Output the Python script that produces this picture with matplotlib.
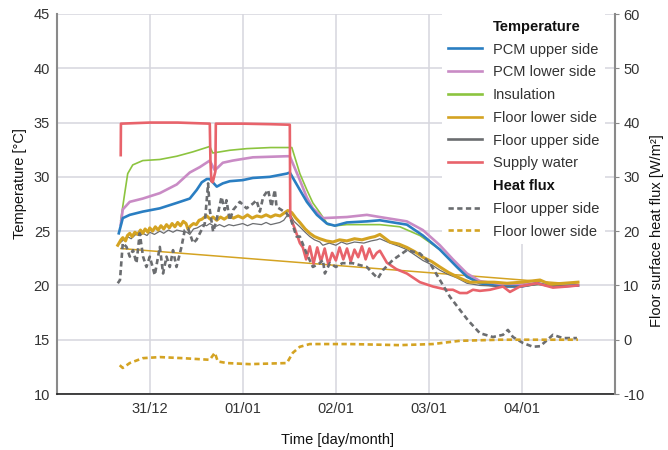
import matplotlib
matplotlib.use("Agg")
import matplotlib.pyplot as plt
from matplotlib.lines import Line2D

plt.rcParams['font.family'] = ['Liberation Sans', 'DejaVu Sans']
plt.rcParams['axes.unicode_minus'] = False

# Time in days counted from 31/12 00:00
tick_days = [0, 1, 2, 3, 4]
tick_labels = ['31/12', '01/01', '02/01', '03/01', '04/01']

supply_t = [-0.312, -0.310, 0.0, 0.3, 0.645, 0.652, 0.662, 0.677, 0.705, 0.710, 1.0, 1.3, 1.505,
            1.510, 1.56, 1.613, 1.645, 1.68, 1.72, 1.76, 1.80, 1.84, 1.88, 1.92, 1.96, 2.0, 2.04,
            2.08, 2.12, 2.16, 2.20, 2.24, 2.28, 2.32, 2.36, 2.40, 2.44, 2.473, 2.548, 2.65, 2.763,
            2.903, 3.043, 3.194, 3.258, 3.333, 3.409, 3.473, 3.548, 3.656, 3.796, 3.871, 3.978,
            4.161, 4.333, 4.484, 4.602]
supply_v = [32.0, 34.9, 35.0, 35.0, 34.9, 31.5, 29.6, 29.5, 30.5, 34.9, 34.9, 34.85, 34.8,
            26.3, 25.2, 23.9, 23.5, 22.4, 23.6, 22.0, 23.5, 22.2, 23.4, 21.9, 23.0, 22.3, 23.5,
            22.4, 23.4, 22.2, 23.3, 22.6, 23.6, 22.4, 23.4, 22.5, 23.0, 23.2, 22.1, 21.5, 21.1,
            20.3, 19.9, 19.6, 19.6, 19.3, 19.3, 19.6, 19.5, 19.6, 19.9, 19.4, 19.9,
            20.2, 19.8, 19.9, 20.0]

insulation_t = [-0.312, -0.269, -0.237, -0.183, -0.075, 0.108, 0.29, 0.462, 0.645, 0.677, 0.753,
                0.86, 1.043, 1.3, 1.527, 1.613, 1.688, 1.753, 1.828, 1.914, 2.0, 2.118, 2.473,
                2.688, 2.903, 3.118, 3.333, 3.441, 3.548, 3.763, 4.0, 4.161, 4.333, 4.602]
insulation_v = [26.0, 28.5, 30.3, 31.1, 31.5, 31.6, 31.9, 32.3, 32.8, 32.2, 32.3,
                32.45, 32.6, 32.7, 32.7, 30.3, 28.8, 27.6, 26.7, 25.6, 25.5, 25.6, 25.6,
                25.4, 24.6, 23.3, 21.4, 20.7, 20.2, 19.9, 19.9, 20.1, 20.0, 20.0]

pcm_lower_t = [-0.312, -0.290, -0.215, -0.075, 0.108, 0.29, 0.43, 0.538, 0.645, 0.699, 0.785,
               0.892, 1.108, 1.473, 1.505, 1.613, 1.688, 1.753, 1.86, 2.118, 2.333, 2.473,
               2.763, 2.935, 3.118, 3.258, 3.409, 3.548, 3.839, 4.161, 4.333, 4.602]
pcm_lower_v = [25.6, 27.0, 27.7, 28.0, 28.5, 29.3, 30.4, 30.9, 31.5, 30.6, 31.3,
               31.5, 31.8, 31.9, 31.9, 29.7, 28.1, 27.1, 26.2, 26.3, 26.5, 26.3,
               25.9, 25.1, 23.7, 22.4, 21.1, 20.4, 20.0, 20.2, 19.9, 20.0]

pcm_upper_t = [-0.333, -0.290, -0.215, -0.075, 0.108, 0.29, 0.43, 0.505, 0.559, 0.613, 0.645,
               0.72, 0.785, 0.86, 1.0, 1.108, 1.29, 1.473, 1.505, 1.613, 1.688, 1.796, 1.903,
               1.989, 2.118, 2.333, 2.473, 2.763, 2.935, 3.118, 3.301, 3.409, 3.548, 3.763,
               4.0, 4.161, 4.333, 4.602]
pcm_upper_v = [24.8, 26.2, 26.5, 26.8, 27.1, 27.6, 28.0, 28.8, 29.5, 29.8, 29.8,
               29.1, 29.4, 29.6, 29.7, 29.9, 30.0, 30.3, 30.4, 28.8, 27.7, 26.5, 25.7,
               25.5, 25.8, 25.9, 26.0, 25.6, 24.6, 23.3, 21.7, 20.8, 20.2, 19.9,
               19.9, 20.2, 19.9, 20.0]

floor_lower_t = [-0.344, -0.31, -0.29, -0.26, -0.24, -0.215, -0.19, -0.16, -0.13, -0.10, -0.075,
                 -0.05, -0.02, 0.0, 0.03, 0.06, 0.09, 0.12, 0.15, 0.18, 0.21, 0.24, 0.27, 0.30,
                 0.33, 0.36, 0.39, 0.41, 0.44, 0.47, 0.50, 0.53, 0.56, 0.59, 0.613, 0.65, 0.68,
                 0.72, 0.76, 0.80, 0.85, 0.90, 0.95, 1.0, 1.05, 1.10, 1.15, 1.20, 1.25, 1.30,
                 1.35, 1.40, 1.45, 1.484, 1.527, 1.57, 1.613, 1.67, 1.72, 1.77, 1.828, 1.90,
                 1.968, 2.04, 2.118, 2.20, 2.28, 2.366, 2.42, 2.473, 2.581, 2.68, 2.763, 2.85,
                 2.935, 3.03, 3.118, 3.21, 3.301, 3.38, 3.441, 3.548, 3.70, 3.839, 4.0, 4.194,
                 4.30, 4.45, 4.602]
floor_lower_v = [23.7, 24.2, 24.4, 24.1, 24.6, 24.8, 24.5, 24.9, 24.7, 25.1, 24.8,
                 25.2, 24.9, 25.3, 25.0, 25.4, 25.1, 25.5, 25.2, 25.6, 25.3, 25.7, 25.4, 25.8,
                 25.5, 25.9, 25.7, 25.2, 25.5, 25.7, 25.6, 26.0, 26.1, 26.3, 26.4, 26.1, 26.3,
                 26.0, 26.3, 26.1, 26.4, 26.2, 26.4, 26.2, 26.5, 26.2, 26.4, 26.3, 26.5, 26.3,
                 26.5, 26.4, 26.7, 26.9, 26.7, 26.2, 25.8, 25.2, 24.8, 24.5, 24.3, 24.1,
                 24.0, 24.2, 24.1, 24.3, 24.2, 24.4, 24.5, 24.7, 24.0, 23.8, 23.5, 23.1,
                 22.6, 22.2, 21.7, 21.2, 20.8, 20.5, 20.3, 20.3, 20.3, 20.2, 20.3, 20.5,
                 20.1, 20.2, 20.3]

# Straight segment joining the first and last floor lower side readings
floor_lower_link_t = [-0.312, 4.602]
floor_lower_link_v = [23.4, 20.1]

floor_upper_t = [-0.323, -0.28, -0.24, -0.2, -0.15, -0.1, -0.075, -0.03, 0.0, 0.05, 0.108, 0.15,
                 0.2, 0.25, 0.29, 0.34, 0.398, 0.43, 0.47, 0.51, 0.57, 0.61, 0.645, 0.70, 0.75,
                 0.80, 0.85, 0.90, 1.0, 1.05, 1.108, 1.2, 1.25, 1.3, 1.398, 1.44, 1.473, 1.505,
                 1.55, 1.613, 1.67, 1.72, 1.77, 1.828, 1.86, 1.93, 2.0, 2.06, 2.118, 2.2, 2.3,
                 2.38, 2.441, 2.473, 2.581, 2.68, 2.763, 2.85, 2.935, 3.03, 3.118, 3.21, 3.301,
                 3.409, 3.548, 3.8, 4.0, 4.2, 4.333, 4.602]
floor_upper_v = [23.9, 24.2, 24.5, 24.3, 24.7, 24.6, 24.8, 24.6, 24.9, 24.7, 25.0, 24.8,
                 25.1, 24.9, 25.1, 25.0, 24.9, 24.7, 25.2, 25.3, 25.6, 25.5, 25.7, 25.4, 25.6,
                 25.4, 25.6, 25.5, 25.7, 25.5, 25.7, 25.6, 25.8, 25.6, 25.8, 26.0, 26.4, 26.6,
                 25.9, 25.4, 24.9, 24.5, 24.2, 24.0, 23.7, 23.9, 23.7, 24.0, 23.8, 24.0, 23.9,
                 24.1, 24.2, 24.3, 23.9, 23.6, 23.3, 22.8, 22.3, 21.9, 21.4, 21.0, 20.7,
                 20.2, 20.0, 19.9, 19.9, 20.1, 20.0, 20.0]

flux_upper_t = [-0.344, -0.32, -0.29, -0.25, -0.215, -0.18, -0.143, -0.108, -0.072, -0.036, 0.0,
                0.054, 0.108, 0.143, 0.18, 0.215, 0.25, 0.287, 0.341, 0.376, 0.412, 0.466,
                0.502, 0.538, 0.591, 0.627, 0.645, 0.681, 0.717, 0.771, 0.806, 0.824, 0.860,
                0.896, 0.968, 1.04, 1.111, 1.147, 1.183, 1.219, 1.272, 1.308, 1.344, 1.362,
                1.416, 1.47, 1.52, 1.577, 1.613, 1.685, 1.753, 1.828, 1.86, 1.882, 1.935,
                2.0, 2.07, 2.18, 2.333, 2.398, 2.452, 2.505, 2.613, 2.763, 2.903, 3.011,
                3.118, 3.226, 3.333, 3.419, 3.548, 3.688, 3.796, 3.849, 3.903, 4.011, 4.118,
                4.194, 4.269, 4.333, 4.441, 4.591]
flux_upper_v = [10.4, 11.0, 17.8, 17.1, 15.3, 16.5, 14.1, 19.6, 15.3, 13.4, 15.3,
                11.9, 17.1, 12.2, 15.3, 13.4, 16.5, 13.4, 17.1, 20.2, 20.5, 17.8,
                18.4, 19.6, 21.4, 28.8, 23.9, 19.9, 22.0, 26.3, 23.9, 25.7, 22.0,
                23.9, 25.4, 24.2, 25.1, 25.7, 23.6, 26.3, 27.6, 24.5, 27.6, 24.5,
                23.9, 23.3, 22.0, 19.0, 19.0, 15.9, 13.4, 14.1, 14.7, 12.2, 14.1,
                13.4, 14.1, 14.1, 13.4, 12.2, 11.3, 12.8, 14.7, 16.5, 15.9, 14.1,
                11.0, 7.9, 5.5, 3.6, 1.2, 0.5, 0.9, 1.8, 0.5, -0.6, -1.3,
                -1.2, -0.1, 0.9, 0.3, 0.3]

flux_lower_t = [-0.323, -0.29, -0.215, -0.075, 0.108, 0.355, 0.645, 0.699, 0.731, 0.828, 1.075,
                1.473, 1.538, 1.613, 1.72, 2.151, 2.688, 3.043, 3.333, 3.763, 4.602]
flux_lower_v = [-4.7, -5.2, -4.3, -3.4, -3.2, -3.4, -3.7, -2.4, -4.0, -4.3, -4.5,
                -4.3, -2.4, -1.3, -0.8, -0.8, -1.0, -0.8, -0.2, 0.0, 0.0]

C_BLUE = '#2a7ec2'
C_PINK = '#c98bc5'
C_GREEN = '#8cc43f'
C_GOLD = '#d4a322'
C_GRAY = '#6b6d70'
C_RED = '#e8636b'
C_GRID = '#d6d6de'
C_TEXT = '#333333'

fig = plt.figure(figsize=(6.68, 4.50), dpi=100)
ax = fig.add_axes([57 / 668, 56 / 450, 558 / 668, 380 / 450])
ax2 = ax.twinx()

ax.set_xlim(-0.997, 5.0)
ax.set_ylim(10, 45)
ax2.set_ylim(-10, 60)

ax.set_axisbelow(True)
ax.grid(True, color=C_GRID, linewidth=1.1)
ax.set_xticks(tick_days)
ax.set_xticklabels(tick_labels)
ax.set_yticks(range(10, 46, 5))
ax2.set_yticks(range(-10, 61, 10))

ax.plot(floor_lower_link_t, floor_lower_link_v, color=C_GOLD, lw=1.1, zorder=2)
ax.plot(insulation_t, insulation_v, color=C_GREEN, lw=1.2, zorder=3)
ax.plot(pcm_lower_t, pcm_lower_v, color=C_PINK, lw=1.9, zorder=3)
ax.plot(pcm_upper_t, pcm_upper_v, color=C_BLUE, lw=1.9, zorder=3)
ax.plot(floor_upper_t, floor_upper_v, color=C_GRAY, lw=0.9, zorder=3)
ax.plot(floor_lower_t, floor_lower_v, color=C_GOLD, lw=2.2, zorder=4)
ax.plot(supply_t, supply_v, color=C_RED, lw=1.9, zorder=5)

ax2.plot(flux_upper_t, flux_upper_v, color=C_GRAY, lw=1.9, ls=(0, (2.0, 1.3)))
ax2.plot(flux_lower_t, flux_lower_v, color=C_GOLD, lw=1.9, ls=(0, (2.0, 1.3)))

for a in (ax, ax2):
    a.spines['top'].set_visible(False)
ax.spines['left'].set_color('#8a8a8a')
ax.spines['left'].set_linewidth(1.5)
ax2.spines['right'].set_color('#8a8a8a')
ax2.spines['right'].set_linewidth(1.5)
ax2.spines['left'].set_visible(False)
ax.spines['right'].set_visible(False)
ax.spines['bottom'].set_color('#222222')
ax.spines['bottom'].set_linewidth(1.2)
ax2.spines['bottom'].set_visible(False)

ax.tick_params(axis='both', length=0, labelsize=10.5, labelcolor=C_TEXT)
ax.tick_params(axis='y', pad=5)
ax.tick_params(axis='x', pad=6)
ax2.tick_params(axis='y', length=3, color='#8a8a8a', labelsize=10.5, labelcolor=C_TEXT, pad=3)

ax.set_xlabel('Time [day/month]', fontsize=10.5, color='#111111')
ax.xaxis.set_label_coords(0.502, -0.103)
ax.set_ylabel('Temperature [°C]', fontsize=10.5, color='#111111')
ax.yaxis.set_label_coords(-0.054, 0.555)
ax2.set_ylabel('Floor surface heat flux [W/m²]', fontsize=10.5, color='#111111')
ax2.yaxis.set_label_coords(1.063, 0.43)

blank = Line2D([], [], color='none')
handles = [
    blank,
    Line2D([], [], color=C_BLUE, lw=1.9),
    Line2D([], [], color=C_PINK, lw=1.9),
    Line2D([], [], color=C_GREEN, lw=1.9),
    Line2D([], [], color=C_GOLD, lw=1.9),
    Line2D([], [], color=C_GRAY, lw=1.9),
    Line2D([], [], color=C_RED, lw=1.9),
    blank,
    Line2D([], [], color=C_GRAY, lw=1.9, ls=(0, (2.0, 1.3))),
    Line2D([], [], color=C_GOLD, lw=1.9, ls=(0, (2.0, 1.3))),
]
labels = ['Temperature', 'PCM upper side', 'PCM lower side', 'Insulation', 'Floor lower side',
          'Floor upper side', 'Supply water', 'Heat flux', 'Floor upper side', 'Floor lower side']
leg = ax2.legend(handles, labels, loc='upper left',
                 bbox_to_anchor=(442 / 668, 1 - 14 / 450), bbox_transform=fig.transFigure,
                 borderaxespad=0, borderpad=0.4, frameon=True, framealpha=1,
                 facecolor='white', edgecolor='none', fancybox=False,
                 handlelength=2.35, handletextpad=0.75, labelspacing=0.60,
                 prop={'size': 10.5})
for i, txt in enumerate(leg.get_texts()):
    if i in (0, 7):
        txt.set_fontweight('bold')
        txt.set_color('#111111')
    else:
        txt.set_color(C_TEXT)
leg.set_zorder(10)

fig.savefig('out.png', dpi=100)
